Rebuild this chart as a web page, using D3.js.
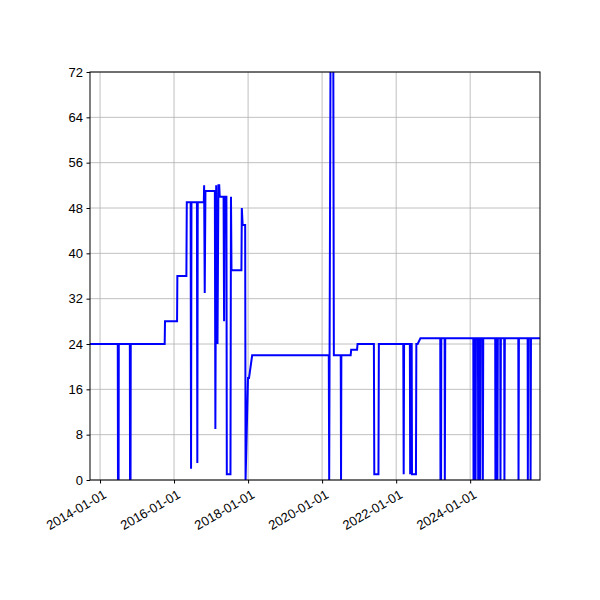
<!DOCTYPE html>
<html><head><meta charset="utf-8">
<script src="https://cdn.jsdelivr.net/npm/d3@7"></script>
<style>body{margin:0;background:#fff}svg{font-family:"DejaVu Sans",sans-serif}</style>
</head><body>
<script>
// vertices of the series: [date, value]
const points = [
  ["2013-09-24",24],
  ["2014-06-25",24],["2014-06-27",0],["2014-07-03",0],["2014-07-05",24],
  ["2014-10-22",24],["2014-10-24",0],["2014-10-29",0],["2014-10-31",24],
  ["2015-10-01",24],["2015-10-04",28],
  ["2016-01-31",28],["2016-02-03",36],
  ["2016-05-02",36],["2016-05-06",49],
  ["2016-06-13",49],["2016-06-17",2],["2016-06-21",49],
  ["2016-08-14",49],["2016-08-18",3],["2016-08-22",49],
  ["2016-10-21",49],["2016-10-24",52],["2016-10-30",33],["2016-11-06",51],
  ["2017-02-07",51],["2017-02-12",9],["2017-02-20",52],["2017-03-05",24],["2017-03-14",52],["2017-03-22",52],["2017-03-27",50],
  ["2017-05-04",50],["2017-05-09",28],["2017-05-14",50],
  ["2017-06-01",50],["2017-06-05",1],["2017-07-11",1],["2017-07-16",50],["2017-07-21",37],
  ["2017-10-27",37],["2017-10-31",48],["2017-11-08",45],
  ["2017-12-03",45],["2017-12-07",0],["2017-12-31",18],["2018-01-10",18],["2018-02-10",22],
  ["2020-03-07",22],["2020-03-11",0],["2020-03-25",80],["2020-04-20",80],["2020-04-26",22],
  ["2020-07-03",22],["2020-07-06",0],["2020-07-09",22],
  ["2020-10-09",22],["2020-10-14",23],
  ["2020-12-11",23],["2020-12-16",24],
  ["2021-05-26",24],["2021-05-30",1],["2021-07-10",1],["2021-07-14",24],
  ["2022-03-12",24],["2022-03-16",1],["2022-03-20",24],
  ["2022-05-16",24],["2022-05-19",1],["2022-05-27",24],["2022-06-03",24],["2022-06-06",1],["2022-07-15",1],["2022-07-19",24],
  ["2022-08-01",24],["2022-08-28",25],
  ["2023-03-12",25],["2023-03-14",0],["2023-03-20",0],["2023-03-22",25],
  ["2023-04-24",25],["2023-04-26",0],["2023-04-30",25],
  ["2024-02-01",25],["2024-02-03",0],["2024-02-07",25],
  ["2024-02-21",25],["2024-02-23",0],["2024-02-27",25],
  ["2024-03-18",25],["2024-03-20",0],["2024-03-24",25],
  ["2024-04-07",25],["2024-04-09",0],["2024-04-13",25],
  ["2024-05-03",25],["2024-05-05",0],["2024-05-09",25],
  ["2024-09-04",25],["2024-09-06",0],["2024-09-10",25],
  ["2024-09-24",25],["2024-09-26",0],["2024-09-30",25],
  ["2024-10-24",25],["2024-10-26",0],["2024-10-30",25],
  ["2024-12-02",25],["2024-12-04",0],["2024-12-08",25],
  ["2025-04-20",25],["2025-04-22",0],["2025-04-26",25],
  ["2025-07-21",25],["2025-07-23",0],["2025-07-27",25],
  ["2025-08-17",25],["2025-08-19",0],["2025-08-23",25],
  ["2025-11-20",25]
];
const xTicks = ["2014-01-01","2016-01-01","2018-01-01","2020-01-01","2022-01-01","2024-01-01"];
const yTicks = [0,8,16,24,32,40,48,56,64,72];

const parse = d3.timeParse("%Y-%m-%d");
const data = points.map(p => ({date: parse(p[0]), value: p[1]}));
const mLeft = 90, mRight = 540, mTop = 72, mBottom = 480;

const svg = d3.select("body").append("svg").attr("width", 600).attr("height", 600);
const x = d3.scaleTime().domain([parse("2013-09-24"), parse("2025-11-20")]).range([mLeft, mRight]);
const y = d3.scaleLinear().domain([0, 72]).range([mBottom, mTop]);

svg.append("defs").append("clipPath").attr("id", "clip")
  .append("rect").attr("x", mLeft).attr("y", mTop).attr("width", mRight - mLeft).attr("height", mBottom - mTop);

// grid
svg.append("g").selectAll("line").data(xTicks).enter().append("line")
  .attr("x1", d => x(parse(d))).attr("x2", d => x(parse(d)))
  .attr("y1", mTop).attr("y2", mBottom).attr("stroke", "#b0b0b0").attr("stroke-width", 0.8);
svg.append("g").selectAll("line").data(yTicks).enter().append("line")
  .attr("x1", mLeft).attr("x2", mRight)
  .attr("y1", d => y(d)).attr("y2", d => y(d)).attr("stroke", "#b0b0b0").attr("stroke-width", 0.8);

svg.append("path").datum(data)
  .attr("clip-path", "url(#clip)")
  .attr("fill", "none").attr("stroke", "#0000ff").attr("stroke-width", 2)
  .attr("d", d3.line().x(d => x(d.date)).y(d => y(d.value)));

const fmt = d3.timeFormat("%Y-%m-%d");
const xAxis = svg.append("g").attr("transform", `translate(0,${mBottom})`)
  .call(d3.axisBottom(x).tickValues(xTicks.map(parse)).tickFormat(fmt).tickSize(3.5).tickPadding(3));
xAxis.selectAll("text").attr("font-size", 13).attr("text-anchor", "end")
  .attr("transform", "rotate(-30)").attr("dx", "-0.2em").attr("dy", "0.9em");
const yAxis = svg.append("g").attr("transform", `translate(${mLeft},0)`)
  .call(d3.axisLeft(y).tickValues(yTicks).tickSize(3.5).tickPadding(3.5));
yAxis.selectAll("text").attr("font-size", 13);
svg.selectAll(".domain").remove();
svg.append("rect").attr("x", mLeft).attr("y", mTop).attr("width", mRight - mLeft).attr("height", mBottom - mTop)
  .attr("fill", "none").attr("stroke", "#000").attr("stroke-width", 1);
</script>
</body></html>
